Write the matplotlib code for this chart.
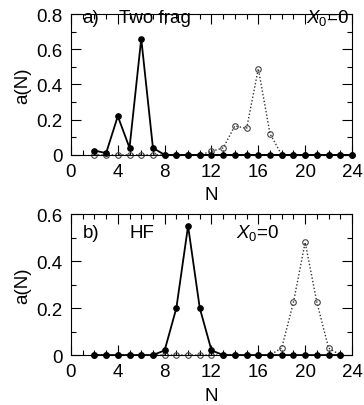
import numpy as np
import matplotlib
matplotlib.use("Agg")
import matplotlib.pyplot as plt
from matplotlib.ticker import MultipleLocator

plt.rcParams['font.family'] = ['Liberation Sans', 'DejaVu Sans']
plt.rcParams['mathtext.fontset'] = 'custom'
plt.rcParams['mathtext.it'] = 'Liberation Sans:italic'
plt.rcParams['mathtext.rm'] = 'Liberation Sans'

# panel a) Two frag
n_a_full = np.arange(2, 25)
a_full_a = [0.025, 0.01, 0.22, 0.04, 0.66, 0.04, 0.0, 0.0, 0.0, 0.0, 0.0,
            0.0, 0.0, 0.0, 0.0, 0.0, 0.0, 0.0, 0.0, 0.0, 0.0, 0.0, 0.0]
n_a_open = np.arange(2, 25)
a_open_a = [0.0, 0.0, 0.0, 0.0, 0.0, 0.0, 0.0, 0.0, 0.0, 0.0, 0.02, 0.04,
            0.165, 0.15, 0.49, 0.12, 0.0, 0.0, 0.0, 0.0, 0.0, 0.0, 0.0]

# panel b) HF
n_b_full = np.arange(2, 24)
a_full_b = [0.0, 0.0, 0.0, 0.0, 0.0, 0.0, 0.02, 0.2, 0.55, 0.2, 0.02,
            0.0, 0.0, 0.0, 0.0, 0.0, 0.0, 0.0, 0.0, 0.0, 0.0, 0.0]
n_b_open = np.arange(2, 24)
a_open_b = [0.0, 0.0, 0.0, 0.0, 0.0, 0.0, 0.0, 0.0, 0.0, 0.0, 0.0,
            0.0, 0.0, 0.0, 0.0, 0.0, 0.03, 0.225, 0.48, 0.225, 0.03, 0.0]

fig = plt.figure(figsize=(3.64, 4.06), dpi=100)
ax1 = fig.add_axes([0.195, 0.616, 0.772, 0.347])
ax2 = fig.add_axes([0.195, 0.123, 0.772, 0.347])


def draw_panel(ax, nf, af, no, ao, ymax, label, label_x, chi_x, chi_y, lab_y):
    # open circles with dotted line first, filled dots on top
    ax.plot(no, ao, ls=(0, (1, 1.5)), color='#333333', lw=1.0, marker='o',
            ms=4, mfc='none', mec='#444444', mew=0.8, clip_on=False, zorder=2)
    ax.plot(nf, af, ls='-', color='k', lw=1.3, marker='o', ms=3.8,
            mfc='k', mec='k', clip_on=False, zorder=3)
    ax.set_xlim(0, 24)
    ax.set_ylim(0, ymax)
    ax.xaxis.set_major_locator(MultipleLocator(4))
    ax.xaxis.set_minor_locator(MultipleLocator(1))
    ax.yaxis.set_major_locator(MultipleLocator(0.2))
    ax.yaxis.set_minor_locator(MultipleLocator(0.1))
    ax.yaxis.set_major_formatter(plt.FuncFormatter(
        lambda v, p: '0' if abs(v) < 1e-9 else '%.1f' % v))
    ax.tick_params(which='both', direction='in', top=True, right=True,
                   labelsize=13.5, width=0.8)
    ax.tick_params(which='major', length=7, pad=6)
    ax.tick_params(which='minor', length=3.5)
    for s in ax.spines.values():
        s.set_linewidth(0.8)
    ax.set_xlabel('N', fontsize=13.5, labelpad=4.5)
    ax.set_ylabel('a(N)', fontsize=13.5, labelpad=4)
    ax.text(1.0, lab_y, label[0], fontsize=13.5, va='baseline')
    ax.text(label_x, lab_y, label[1], fontsize=13.5, va='baseline')
    ax.text(chi_x, chi_y, r'$X_0$=0', fontsize=13.5, va='baseline')


draw_panel(ax1, n_a_full, a_full_a, n_a_open, a_open_a, 0.8,
           ('a)', 'Two frag'), 4.1, 20.1, 0.755, 0.755)
draw_panel(ax2, n_b_full, a_full_b, n_b_open, a_open_b, 0.6,
           ('b)', 'HF'), 5.0, 14.1, 0.502, 0.502)

fig.savefig('out.png', dpi=100)
